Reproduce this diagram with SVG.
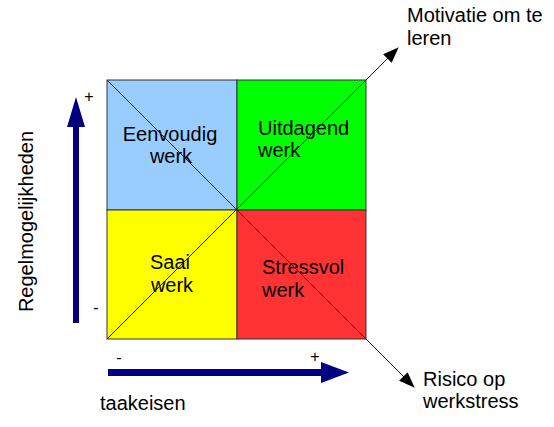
<svg xmlns="http://www.w3.org/2000/svg" width="554" height="427" viewBox="0 0 554 427">
<style>
text{font-family:"Liberation Sans",Arial,sans-serif;font-size:20px;fill:#000}
.sign{font-size:16px}
.q{stroke:#333;stroke-width:1}
.diag{stroke:#222;stroke-width:1;fill:none}
</style>
<defs>
<marker id="ah" markerWidth="16" markerHeight="12" refX="15" refY="6" orient="auto" markerUnits="userSpaceOnUse">
<path d="M0,0 L16,6 L0,12 Z" fill="#000"/>
</marker>
</defs>
<rect width="554" height="427" fill="#fff"/>
<g id="q-eenvoudig">
<rect class="q" x="107" y="80" width="130" height="130" fill="#99ccff"/>
<text x="170" y="141" text-anchor="middle">Eenvoudig</text>
<text x="171" y="163" text-anchor="middle">werk</text>
</g>
<g id="q-uitdagend">
<rect class="q" x="237" y="80" width="129" height="130" fill="#00ff00"/>
<text x="258" y="135">Uitdagend</text>
<text x="258" y="157">werk</text>
</g>
<g id="q-saai">
<rect class="q" x="107" y="210" width="130" height="129" fill="#ffff00"/>
<text x="170" y="269" text-anchor="middle">Saai</text>
<text x="172" y="292" text-anchor="middle">werk</text>
</g>
<g id="q-stressvol">
<rect class="q" x="237" y="210" width="129" height="129" fill="#ff3333"/>
<text x="262" y="274">Stressvol</text>
<text x="262" y="297">werk</text>
</g>
<g id="connectors">
<line class="diag" x1="107" y1="339" x2="398" y2="48" marker-end="url(#ah)"/>
<line class="diag" x1="107" y1="80" x2="414" y2="387" marker-end="url(#ah)"/>
<path d="M73,323 L73,127 L67,127 L76,97 L85,127 L79,127 L79,323 Z" fill="#000080"/>
<path d="M108,369 L321,369 L321,362 L349,372.5 L321,383 L321,376 L108,376 Z" fill="#000080"/>
</g>
<g id="labels">
<text x="407" y="22">Motivatie om te</text>
<text x="407" y="45">leren</text>
<text x="423" y="386">Risico op</text>
<text x="423" y="408">werkstress</text>
<text x="100" y="410">taakeisen</text>
<text transform="translate(33,221.5) rotate(-90)" text-anchor="middle">Regelmogelijkheden</text>
<text class="sign" x="89" y="102" text-anchor="middle">+</text>
<text class="sign" x="96" y="313" text-anchor="middle">-</text>
<text class="sign" x="119" y="363" text-anchor="middle">-</text>
<text class="sign" x="315" y="362" text-anchor="middle">+</text>
</g>
</svg>
